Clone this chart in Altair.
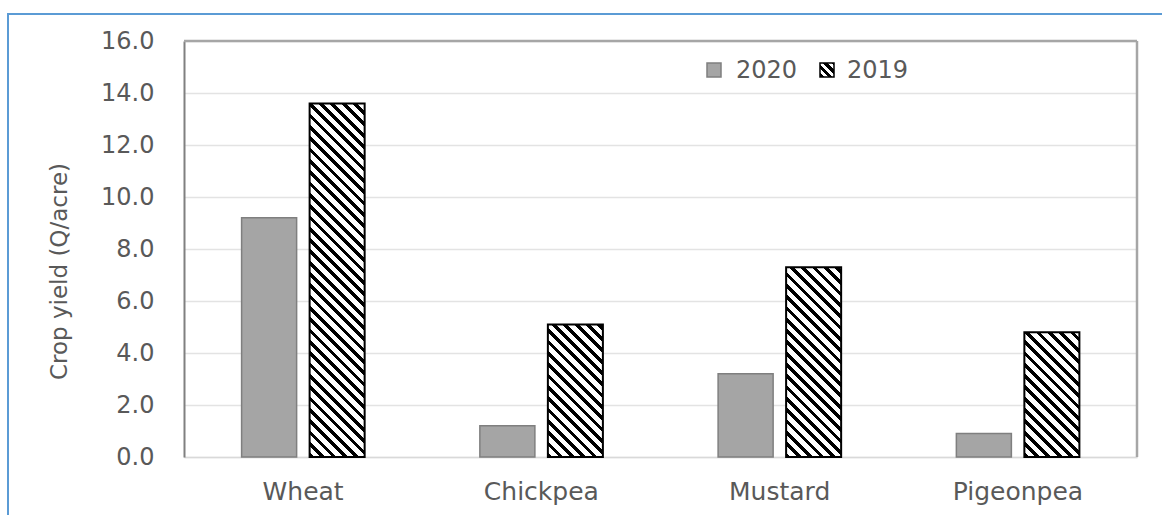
import math
import altair as alt
import pandas as pd

# ---- data ----
crops = ["Wheat", "Chickpea", "Mustard", "Pigeonpea"]
series = ["2020", "2019"]
y2020 = [9.2, 1.2, 3.2, 0.9]
y2019 = [13.6, 5.1, 7.3, 4.8]
y_ticks = [0, 2, 4, 6, 8, 10, 12, 14, 16]

# ---- layout ----
W, H = 953, 416
PAD = {"left": 184, "top": 41, "right": 25, "bottom": 58}
YMAX = 16
TEXT = "#595959"
FONT = "DejaVu Sans"
GRAY_FILL = "#a5a5a5"
GRAY_EDGE = "#7f7f7f"

# offset band geometry (bars 55 px, gap 13 px inside a 238 px band)
OFF_PI, OFF_PO = 0.191, 0.847
step_band = W / len(crops)
step_off = step_band / (2 - OFF_PI + 2 * OFF_PO)
BAR_W = step_off * (1 - OFF_PI)


def hatch(w, h, period=8.0, frac=0.42):
    """Diagonal '\\' hatch as a sharp-stop linear gradient in bbox units."""
    s = (w + h) / (w * w + h * h)
    n = (w + h) / (period * math.sqrt(2))
    step = 1.0 / n
    stops = []
    t = 0.0
    while t < 1.0:
        b = min(t + frac * step, 1.0)
        c = min(t + step, 1.0)
        stops += [
            {"offset": round(t, 5), "color": "black"},
            {"offset": round(b, 5), "color": "black"},
            {"offset": round(b, 5), "color": "white"},
            {"offset": round(c, 5), "color": "white"},
        ]
        t += step
    return {
        "gradient": "linear",
        "x1": 0, "y1": 1,
        "x2": w * s, "y2": 1 - h * s,
        "stops": stops,
    }


rows = []
for c, a, b in zip(crops, y2020, y2019):
    rows.append({"crop": c, "year": series[0], "value": a})
    rows.append({"crop": c, "year": series[1], "value": b})
df = pd.DataFrame(rows)
one = pd.DataFrame({"k": [0]})

x_enc = alt.X(
    "crop:N", sort=crops,
    scale=alt.Scale(paddingInner=0, paddingOuter=0),
    axis=alt.Axis(
        title=None, labelAngle=0, ticks=False, labelPadding=22,
        labelFont=FONT, labelFontSize=25, labelColor=TEXT,
        domainColor="#d9d9d9", domainWidth=1.5,
    ),
)
y_enc = alt.Y(
    "value:Q",
    scale=alt.Scale(domain=[0, YMAX], nice=False),
    axis=alt.Axis(
        values=y_ticks, format=".1f", ticks=False, labelPadding=30,
        labelFont=FONT, labelFontSize=24, labelColor=TEXT,
        grid=True, gridColor="#e3e3e3", gridWidth=1.5,
        domainColor="#808080", domainWidth=2,
        title="Crop yield (Q/acre)", titleFont=FONT, titleFontSize=23,
        titleFontWeight="normal", titleColor=TEXT,
        titleAngle=-90, titleX=-125, titleY=230,
        titleAlign="center", titleBaseline="middle",
    ),
)
xo_enc = alt.XOffset(
    "year:N",
    scale=alt.Scale(domain=series, paddingInner=OFF_PI, paddingOuter=OFF_PO),
)

# outer blue frame
frame = alt.Chart(one).mark_rect(
    fill="transparent", stroke="#5b9bd5", strokeWidth=2
).encode(
    x=alt.value(-176), x2=alt.value(W + 200),
    y=alt.value(-27), y2=alt.value(H + 200),
)

bars2020 = alt.Chart(df).transform_filter(
    alt.datum.year == series[0]
).mark_bar(fill=GRAY_FILL, stroke=GRAY_EDGE, strokeWidth=1.5).encode(
    x=x_enc, y=y_enc, xOffset=xo_enc
)

layers = [bars2020]
for c, v in zip(crops, y2019):
    h = v * H / YMAX
    layers.append(
        alt.Chart(df).transform_filter(
            (alt.datum.year == series[1]) & (alt.datum.crop == c)
        ).mark_bar(fill=hatch(BAR_W, h), stroke="black", strokeWidth=2).encode(
            x=x_enc, y=y_enc, xOffset=xo_enc
        )
    )

# plot frame (top and right edges)
top_rule = alt.Chart(one).mark_rule(color="#a6a6a6", strokeWidth=2.5).encode(
    x=alt.value(0), x2=alt.value(W), y=alt.value(0)
)
right_rule = alt.Chart(one).mark_rule(color="#a6a6a6", strokeWidth=2.5).encode(
    x=alt.value(W), y=alt.value(0), y2=alt.value(H)
)

# custom legend
LX, LY, SQ = 523, 29, 14
leg_gray = alt.Chart(one).mark_rect(
    fill=GRAY_FILL, stroke=GRAY_EDGE, strokeWidth=1.5
).encode(
    x=alt.value(LX), x2=alt.value(LX + SQ),
    y=alt.value(LY - SQ / 2), y2=alt.value(LY + SQ / 2),
)
leg_hatch = alt.Chart(one).mark_rect(
    fill=hatch(SQ, SQ, period=6.0, frac=0.5), stroke="black", strokeWidth=1.5
).encode(
    x=alt.value(LX + 113), x2=alt.value(LX + 113 + SQ),
    y=alt.value(LY - SQ / 2), y2=alt.value(LY + SQ / 2),
)
leg_t1 = alt.Chart(one).mark_text(
    align="left", baseline="middle", font=FONT, fontSize=24, color=TEXT
).encode(x=alt.value(LX + 29), y=alt.value(LY + 1), text=alt.value(series[0]))
leg_t2 = alt.Chart(one).mark_text(
    align="left", baseline="middle", font=FONT, fontSize=24, color=TEXT
).encode(x=alt.value(LX + 140), y=alt.value(LY + 1), text=alt.value(series[1]))

layers += [top_rule, right_rule, leg_gray, leg_hatch, leg_t1, leg_t2, frame]

chart = alt.layer(*layers).properties(
    width=W, height=H, padding=PAD,
    autosize=alt.AutoSizeParams(type="none"),
    background="white",
).configure_view(stroke=None)

chart.save("out.html", embed_options={"renderer": "svg", "actions": False})
